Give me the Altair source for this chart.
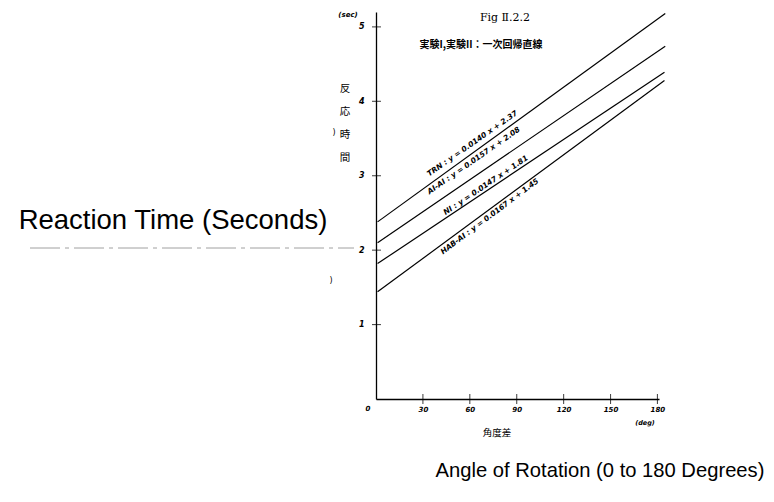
import altair as alt
import pandas as pd

# ---- data ----
groups = ["TRN", "AI-AI", "NI", "HAB-AI"]
x_start = [1, 1, 1, 1]
x_end = [185, 185, 184.5, 184.5]
y_start = [2.38, 2.10, 1.82, 1.44]
y_end = [5.18, 4.74, 4.39, 4.28]
equations = [
    "TRN : y = 0.0140 x + 2.37",
    "AI-AI : y = 0.0157 x + 2.08",
    "NI : y = 0.0147 x + 1.81",
    "HAB-AI : y = 0.0167 x + 1.45",
]
label_x = [61.7, 62.6, 70.3, 72.8]
label_y = [3.43, 3.2, 2.87, 2.45]
label_angle = [325, 325, 326, 323]

x_ticks = [0, 30, 60, 90, 120, 150, 180]
y_ticks = [1, 2, 3, 4, 5]

# ---- tables built from the arrays ----
rows = []
for g, xa, xb, ya, yb in zip(groups, x_start, x_end, y_start, y_end):
    rows.append({"group": g, "angle": xa, "rt": ya})
    rows.append({"group": g, "angle": xb, "rt": yb})
lines_df = pd.DataFrame(rows)
labels_df = pd.DataFrame({"text": equations, "angle": label_x, "rt": label_y, "rot": label_angle})
xt_df = pd.DataFrame({"angle": x_ticks[1:]})
yt_df = pd.DataFrame({"rt": y_ticks})

W, H = 283, 387
xs = alt.Scale(domain=[0, 181], nice=False, zero=False)
ys = alt.Scale(domain=[0, 5.2], nice=False)

TICK_FONT = "DejaVu Sans"

x_axis = alt.Axis(values=x_ticks[1:], title=None, grid=False, ticks=False,
                  domainColor="black", domainWidth=1.3, labelColor="black",
                  labelFont=TICK_FONT, labelFontSize=7, labelFontWeight="bold",
                  labelFontStyle="italic", labelPadding=6, format="d")
y_axis = alt.Axis(values=y_ticks, title=None, grid=False, ticks=False,
                  domainColor="black", domainWidth=1.3, labelColor="black",
                  labelFont=TICK_FONT, labelFontSize=8, labelFontWeight="bold",
                  labelFontStyle="italic", labelPadding=12, format="d")

lines = alt.Chart(lines_df).mark_line(color="black", strokeWidth=1.2, clip=False).encode(
    x=alt.X("angle:Q", scale=xs, axis=x_axis),
    y=alt.Y("rt:Q", scale=ys, axis=y_axis),
    detail="group:N",
)

labels = alt.Chart(labels_df).mark_text(
    font=TICK_FONT, fontSize=7.5, fontWeight="bold", fontStyle="italic",
    color="black", align="center", baseline="middle"
).encode(
    x=alt.X("angle:Q", scale=xs),
    y=alt.Y("rt:Q", scale=ys),
    text="text:N",
    angle=alt.Angle("rot:Q", scale=None),
)

x_tick_marks = alt.Chart(xt_df).mark_tick(
    color="black", orient="vertical", size=10, thickness=1.1).encode(
    x=alt.X("angle:Q", scale=xs), y=alt.datum(0, scale=ys))

y_tick_marks = alt.Chart(yt_df).mark_tick(
    color="black", orient="horizontal", size=9, thickness=1.1).encode(
    y=alt.Y("rt:Q", scale=ys), x=alt.datum(0.3, scale=xs))


def note(text, x, y, size, font="Liberation Sans", **kw):
    return alt.Chart(pd.DataFrame({"a": [0]})).mark_text(
        text=text, font=font, fontSize=size, color="black",
        align=kw.pop("align", "center"), baseline=kw.pop("baseline", "middle"), **kw
    ).encode(x=alt.value(x), y=alt.value(y))


notes = [
    note("Fig \u2161.2.2", 129, 6, 11, font="DejaVu Serif"),
    note("実験I,実験II：一次回帰直線", 105, 33, 10, font="Noto Sans CJK JP", fontWeight="bold"),
    note("(sec)", -28, 3, 7, font=TICK_FONT, fontStyle="italic", fontWeight="bold"),
    note(["反", "応", "時", "間"], -31, 72, 10.5, font="Noto Sans CJK JP",
         lineHeight=23, baseline="top"),
    note("角度差", 121, 421, 9.5, font="Noto Sans CJK JP"),
    note("0", -8, 397, 7, font=TICK_FONT, fontStyle="italic", fontWeight="bold"),
    note("(deg)", 269, 411, 6.5, font=TICK_FONT, fontStyle="italic", fontWeight="bold"),
    note(")", -42, 121, 8, font=TICK_FONT),
    note(")", -45, 269, 8, font=TICK_FONT),
    note("Reaction Time (Seconds)", -203, 209, 27.5),
    note("Angle of Rotation (0 to 180 Degrees)", 224, 459, 20.2),
]

leader = alt.Chart(pd.DataFrame({"a": [0]})).mark_rule(
    color="#888888", strokeWidth=0.8, strokeDash=[30, 5, 4, 5]).encode(
    x=alt.value(-346), x2=alt.value(-22), y=alt.value(236))

chart = alt.layer(lines, x_tick_marks, y_tick_marks, labels, leader, *notes).properties(
    width=W, height=H,
    padding={"left": 376, "top": 12, "right": 774 - 376 - W, "bottom": 502 - 12 - H},
    autosize=alt.AutoSizeParams(type="none"),
    background="white",
).configure_view(stroke=None)

chart.save("out.html", embed_options={"renderer": "svg", "actions": False})
